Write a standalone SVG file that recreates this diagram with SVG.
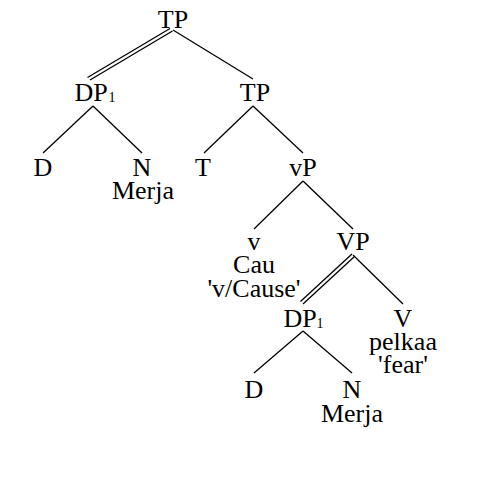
<svg xmlns="http://www.w3.org/2000/svg" width="480" height="495" viewBox="0 0 480 495">
<style>
text{font-family:"Liberation Serif","Times New Roman",serif;font-size:26px;fill:#000;text-anchor:middle}
.sub{font-size:14px}
line{stroke:#000;stroke-width:1.3}
</style>
<rect width="480" height="495" fill="#fff"/>
<g id="connectors">
<line x1="170" y1="28.5" x2="87.5" y2="77.5"/>
<line x1="172.5" y1="31" x2="90" y2="80"/>
<line x1="173" y1="30" x2="253" y2="79"/>
<line x1="93" y1="106" x2="43" y2="153"/>
<line x1="93" y1="106" x2="142" y2="153"/>
<line x1="253" y1="106" x2="204" y2="153"/>
<line x1="253" y1="106" x2="303" y2="153"/>
<line x1="303" y1="181" x2="254" y2="229"/>
<line x1="303" y1="181" x2="353" y2="229"/>
<line x1="352" y1="254" x2="300.5" y2="301.5"/>
<line x1="354.5" y1="256.5" x2="303" y2="304"/>
<line x1="353" y1="255" x2="403" y2="304"/>
<line x1="303" y1="331" x2="254" y2="373"/>
<line x1="303" y1="331" x2="352" y2="373"/>
</g>
<g id="tp-root"><text x="173" y="28">TP</text></g>
<g id="dp1-top"><text x="91" y="101">DP</text><text class="sub" x="112" y="102">1</text></g>
<g id="tp-mid"><text x="255" y="101">TP</text></g>
<g id="d-top"><text x="43" y="176">D</text></g>
<g id="n-top"><text x="142" y="176">N</text><text x="143" y="199">Merja</text></g>
<g id="t"><text x="203" y="176">T</text></g>
<g id="vp-small"><text x="303" y="176">vP</text></g>
<g id="v-small"><text x="254" y="250">v</text><text x="254" y="273">Cau</text><text x="254" y="297">'v/Cause'</text></g>
<g id="vp"><text x="353" y="250">VP</text></g>
<g id="dp1-low"><text x="300" y="327">DP</text><text class="sub" x="320" y="328">1</text></g>
<g id="v-big"><text x="403" y="327">V</text><text x="403" y="350">pelkaa</text><text x="403" y="373">'fear'</text></g>
<g id="d-low"><text x="254" y="398">D</text></g>
<g id="n-low"><text x="352" y="398">N</text><text x="352" y="422">Merja</text></g>
</svg>
